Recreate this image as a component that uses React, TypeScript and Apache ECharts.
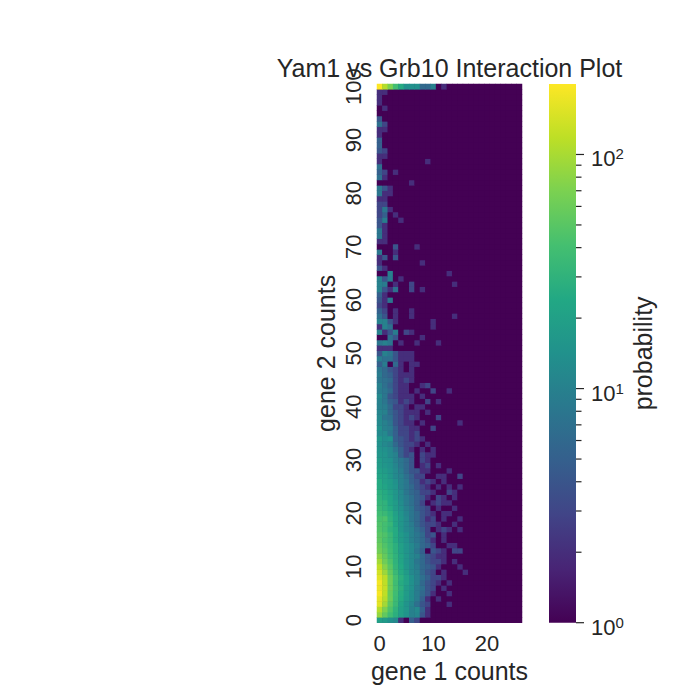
import React, { useEffect, useRef } from 'react';
import * as echarts from 'echarts';

// ---- axis categories ----
const gene1Counts: string[] = Array.from({ length: 27 }, (_, i) => String(i));
const gene2Counts: string[] = Array.from({ length: 101 }, (_, i) => String(i));

// ---- cell values (probability, log colour scale) ----
// one row per gene 2 count, values listed from gene 1 count = 0 upward;
// cells not listed are at the floor of the scale (1)
const rowsY0to24: number[][] = [
  [20, 18, 14, 12, 2, 1, 5, 3],
  [85, 55, 38, 28, 20, 15, 10, 11, 4, 2],
  [110, 70, 45, 30, 20, 16, 10, 12, 5, 2, 1, 1],
  [160, 95, 52, 35, 22, 15, 11, 7, 4, 3, 1, 1, 1, 2],
  [165, 110, 60, 36, 25, 17, 13, 9, 5, 2, 1, 2, 1, 1],
  [190, 120, 58, 38, 26, 18, 13, 9, 6, 4, 2, 1, 1, 2],
  [175, 125, 62, 40, 28, 18, 14, 9, 7, 4, 3, 1, 2, 1],
  [185, 120, 62, 38, 26, 20, 14, 10, 6, 4, 3, 2, 1, 2],
  [160, 115, 62, 40, 28, 20, 14, 10, 7, 5, 3, 3, 2, 1],
  [140, 90, 55, 35, 25, 18, 12, 10, 6, 4, 3, 1, 2, 1, 1, 1, 2],
  [120, 75, 50, 32, 24, 16, 12, 9, 6, 5, 4, 2, 1, 1, 1, 2],
  [95, 62, 45, 30, 22, 15, 12, 8, 6, 4, 3, 3, 2, 1, 2],
  [78, 56, 40, 30, 22, 16, 12, 10, 6, 4, 3, 2, 2, 1, 1, 1],
  [62, 50, 38, 28, 20, 15, 12, 8, 5, 1, 4, 3, 2, 1, 3, 3],
  [58, 46, 36, 28, 20, 15, 12, 9, 6, 5, 3, 1, 1, 2, 2],
  [52, 42, 35, 25, 18, 14, 10, 8, 6, 4, 2, 1, 2, 1],
  [50, 45, 35, 25, 18, 14, 10, 8, 6, 3, 4, 1, 2, 1, 1, 1],
  [46, 40, 30, 25, 16, 12, 10, 7, 5, 3, 1, 2, 3, 2, 1, 2],
  [45, 40, 33, 22, 16, 12, 9, 6, 4, 3, 3, 2, 1, 1, 2],
  [42, 44, 30, 22, 16, 12, 8, 6, 4, 2, 3, 1, 2, 1, 1, 2],
  [38, 35, 28, 20, 15, 11, 8, 6, 4, 3, 2, 1, 2, 2],
  [35, 30, 25, 18, 14, 10, 8, 5, 4, 3, 1, 2, 1, 1, 2],
  [32, 30, 22, 18, 13, 9, 7, 5, 3, 1, 2, 3, 2, 2],
  [30, 26, 22, 16, 12, 9, 7, 5, 4, 2, 1, 3, 2, 1, 2],
  [28, 25, 20, 16, 12, 8, 6, 5, 3, 3, 2, 1, 1, 3, 2],
];
const rowsY25to49: number[][] = [
  [25, 22, 18, 15, 10, 8, 6, 4, 3, 2, 1, 2, 1, 2, 1, 2],
  [25, 20, 18, 14, 10, 8, 5, 4, 2, 3, 2, 1, 2],
  [22, 20, 16, 12, 10, 7, 5, 3, 3, 1, 1, 2, 2, 1, 1, 3],
  [20, 18, 15, 12, 9, 6, 4, 4, 2, 2, 1, 1, 1, 2],
  [18, 16, 14, 11, 8, 6, 4, 1, 2, 3, 1, 2],
  [18, 15, 14, 10, 8, 6, 4, 1, 3, 2, 1, 1],
  [16, 15, 12, 10, 5, 3, 4, 1, 3, 2, 2],
  [15, 14, 12, 8, 5, 3, 2, 1, 2, 1, 2],
  [14, 12, 10, 6, 4, 3, 3, 2, 1, 2],
  [16, 13, 14, 5, 4, 3, 2, 3, 2],
  [12, 12, 8, 5, 3, 3, 2, 3, 1, 1],
  [14, 10, 9, 5, 3, 3, 2, 2, 1, 1, 3],
  [12, 10, 8, 4, 3, 2, 2, 1, 2, 1, 1, 1, 1, 1, 1, 2],
  [12, 8, 7, 4, 3, 2, 3, 2, 1, 1, 1, 3],
  [11, 10, 6, 4, 3, 2, 2, 2, 1, 2],
  [10, 9, 6, 3, 3, 2, 1, 2, 2, 1],
  [10, 8, 5, 4, 2, 3, 2, 1, 1, 3, 1, 2],
  [12, 8, 4, 3, 2, 2, 2, 1, 2],
  [9, 8, 6, 3, 2, 2, 1, 2, 1, 1, 3, 1, 1, 2],
  [10, 7, 5, 3, 2, 2, 1, 1, 2, 3],
  [8, 7, 6, 3, 2, 3, 2, 1],
  [9, 6, 5, 3, 2, 2, 2],
  [8, 6, 4, 3, 2, 1, 2],
  [5, 9, 1, 6, 2, 1, 2, 2],
  [9, 7, 7, 4, 2, 2, 2],
];
const rowsY50to74: number[][] = [
  [4, 10, 8, 4, 2, 2, 2],
  [2, 2, 2],
  [8, 10, 8, 1, 2, 1, 1, 2, 1, 1, 1, 2],
  [1, 1, 7, 4, 1, 1, 1, 1, 2],
  [10, 2, 4, 9, 1, 3, 2],
  [2, 10, 7, 1, 1, 1, 1, 1, 1, 1, 2],
  [10, 10, 4, 2, 1, 1, 1, 1, 1, 1, 2],
  [7, 4, 1, 2, 1, 1, 2, 1, 1, 1, 1, 1, 1, 1, 2],
  [5, 3, 1, 2, 1, 1, 2],
  [3, 2],
  [4, 2, 8],
  [5, 2],
  [10, 4, 2, 7, 1, 1, 3, 1, 2],
  [10, 9, 1, 2, 1, 1, 3, 1, 1, 1, 1, 1, 1, 1, 2],
  [10, 4, 9, 1, 2],
  [1, 1, 10, 1, 1, 1, 1, 1, 1, 1, 1, 1, 1, 2],
  [4, 2],
  [2, 1, 1, 1, 1, 1, 1, 1, 2],
  [2, 4, 1, 4],
  [8, 1, 1, 2],
  [1, 1, 1, 4, 1, 1, 1, 2],
  [2, 2],
  [8, 2],
  [8, 2],
  [4, 2],
];
const rowsY75to100: number[][] = [
  [4, 9, 1, 1, 2],
  [3, 5, 1, 2],
  [3, 8, 2],
  [3, 3],
  [2, 2],
  [8, 2, 2],
  [8, 4, 2],
  [1, 1, 1, 1, 1, 1, 2],
  [7, 2],
  [5, 3, 1, 2],
  [7],
  [2, 1, 1, 1, 1, 1, 1, 1, 1, 2],
  [2, 2],
  [4, 3],
  [5],
  [5],
  [2],
  [2, 2],
  [7, 3],
  [4],
  [1],
  [1, 2],
  [2],
  [2],
  [2, 2],
  [200, 110, 70, 40, 25, 14, 14, 14, 6, 6, 10, 1, 2],
];

// ---- colour bar ----
const colorMin = 1;
const colorMax = 200;
const colorbarMajorTicks = [1, 10, 100];
const colorbarMinorTicks = [2, 3, 4, 5, 6, 7, 8, 9, 20, 30, 40, 50, 60, 70, 80, 90];
const viridis = [
  '#440154', '#482475', '#414487', '#355f8d', '#2a788e', '#21918c',
  '#22a884', '#44bf70', '#7ad151', '#bddf26', '#fde725',
];

const TEXT = '#262626';
const FONT = '"Liberation Sans", Arial, Helvetica, sans-serif';
const TICK_FONT = 22;

export default function App() {
  const ref = useRef<HTMLDivElement>(null);

  useEffect(() => {
    if (!ref.current) return;
    const chart = echarts.init(ref.current, undefined, { renderer: 'svg' });

    const allRows = [...rowsY0to24, ...rowsY25to49, ...rowsY50to74, ...rowsY75to100];
    const heatData: number[][] = [];
    allRows.forEach((row, y) => {
      for (let x = 0; x < gene1Counts.length; x++) {
        const v = row[x] !== undefined ? row[x] : colorMin;
        heatData.push([x, y, Math.log10(v)]);
      }
    });

    const tickData = [
      ...colorbarMajorTicks.map((v) => [1, v, 1]),
      ...colorbarMinorTicks.map((v) => [1, v, 0]),
    ];

    const gridTop = 84;
    const gridH = 538.7;

    chart.setOption({
      animation: false,
      textStyle: { fontFamily: FONT },
      grid: [
        { left: 377, top: gridTop, width: 145, height: gridH, show: true, backgroundColor: '#440154', borderWidth: 0 },
        { left: 549, top: gridTop, width: 27, height: gridH, show: false },
      ],
      xAxis: [
        {
          type: 'category', gridIndex: 0, data: gene1Counts,
          axisLine: { show: false }, axisTick: { show: false }, splitLine: { show: false },
          axisLabel: { interval: 9, fontSize: TICK_FONT, color: TEXT, margin: 10, fontFamily: FONT },
        },
        { type: 'value', gridIndex: 1, min: 0, max: 1, show: false },
      ],
      yAxis: [
        {
          type: 'category', gridIndex: 0, data: gene2Counts,
          axisLine: { show: false }, axisTick: { show: false }, splitLine: { show: false },
          axisLabel: { interval: 9, rotate: 90, fontSize: TICK_FONT, color: TEXT, margin: 13, fontFamily: FONT },
        },
        {
          type: 'log', gridIndex: 1, position: 'right', logBase: 10, min: colorMin, max: colorMax,
          axisLine: { show: false }, axisTick: { show: false }, splitLine: { show: false },
          axisLabel: {
            showMaxLabel: false, showMinLabel: true, margin: 15, color: TEXT,
            formatter: (v: number) => {
              const e = Math.round(Math.log10(v));
              if (Math.abs(Math.pow(10, e) - v) > 1e-6 * v) return '';
              return `{b|10}{s|${e}}`;
            },
            rich: {
              b: { fontSize: TICK_FONT, lineHeight: TICK_FONT, padding: [9, 0, 0, 0], color: TEXT, fontFamily: FONT },
              s: { fontSize: 15, lineHeight: 15, verticalAlign: 'top', padding: [3, 0, 0, 0], color: TEXT, fontFamily: FONT },
            },
          },
        },
      ],
      visualMap: {
        type: 'continuous', show: false, min: Math.log10(colorMin), max: Math.log10(colorMax),
        dimension: 2, seriesIndex: 0, inRange: { color: viridis },
      },
      series: [
        {
          type: 'heatmap', xAxisIndex: 0, yAxisIndex: 0, data: heatData,
          itemStyle: { borderWidth: 0 }, emphasis: { disabled: true }, progressive: 0,
        },
        {
          type: 'custom', xAxisIndex: 1, yAxisIndex: 1, data: tickData, clip: false, silent: true, z: 5,
          encode: { x: 0, y: 1 },
          renderItem: (_params: any, api: any) => {
            const p = api.coord([api.value(0), api.value(1)]);
            const len = api.value(2) === 1 ? 8 : 5.5;
            return {
              type: 'line',
              shape: { x1: p[0], y1: p[1], x2: p[0] + len, y2: p[1] },
              style: { stroke: TEXT, lineWidth: 1.2 },
            };
          },
        },
      ],
      graphic: [
        {
          type: 'rect', silent: true, z: 1,
          shape: { x: 549, y: gridTop, width: 27, height: gridH },
          style: {
            fill: new echarts.graphic.LinearGradient(0, 1, 0, 0,
              viridis.map((c, i) => ({ offset: i / (viridis.length - 1), color: c }))),
          },
        },
        {
          type: 'text', x: 449.5, y: 67.5,
          style: { text: 'Yam1 vs Grb10 Interaction Plot', fontSize: 25, fill: TEXT, fontFamily: FONT, align: 'center', verticalAlign: 'middle' },
        },
        {
          type: 'text', x: 449.5, y: 671,
          style: { text: 'gene 1 counts', fontSize: 25, fill: TEXT, fontFamily: FONT, align: 'center', verticalAlign: 'middle' },
        },
        {
          type: 'text', x: 326, y: 353.4, rotation: Math.PI / 2,
          style: { text: 'gene 2 counts', fontSize: 25, fill: TEXT, fontFamily: FONT, align: 'center', verticalAlign: 'middle' },
        },
        {
          type: 'text', x: 643, y: 353.4, rotation: Math.PI / 2,
          style: { text: 'probability', fontSize: 25, fill: TEXT, fontFamily: FONT, align: 'center', verticalAlign: 'middle' },
        },
      ],
    });

    return () => chart.dispose();
  }, []);

  return (
    <div
      ref={ref}
      style={{ position: 'fixed', left: 0, top: 0, width: 700, height: 700, background: '#ffffff' }}
    />
  );
}
